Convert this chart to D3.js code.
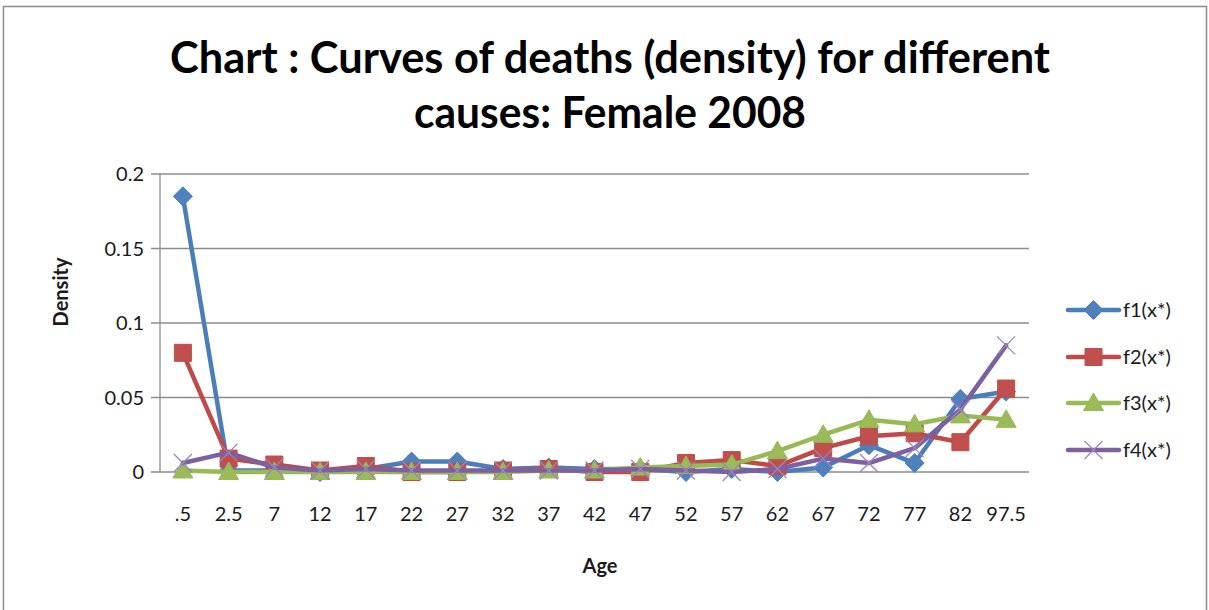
<!DOCTYPE html>
<html><head><meta charset="utf-8">
<script src="https://cdn.jsdelivr.net/npm/d3@7"></script>
<style>body{margin:0;background:#fff}svg{display:block}text{font-family:Lato,"Open Sans",sans-serif}</style>
</head><body><svg id="c" width="1209" height="610"></svg>
<script>
const ages = [".5","2.5","7","12","17","22","27","32","37","42","47","52","57","62","67","72","77","82","97.5"];
const f1 = [0.185,0.001,0.001,0,0.002,0.007,0.007,0.002,0.003,0.002,0.002,0,0.002,0,0.003,0.018,0.006,0.049,0.054];
const f2 = [0.080,0.009,0.005,0.001,0.004,0,0,0.001,0.002,0,0,0.006,0.008,0.004,0.016,0.024,0.026,0.020,0.056];
const f3 = [0.001,0,0,0,0,0,0,0,0.001,0.001,0.003,0.004,0.005,0.014,0.025,0.035,0.032,0.038,0.035];
const f4 = [0.006,0.013,0.003,0.001,0.002,0.001,0.001,0.001,0.001,0.001,0.002,0.001,0,0.002,0.009,0.006,0.016,0.042,0.085];
const seriesNames = ["f1(x*)","f2(x*)","f3(x*)","f4(x*)"];
const yTicks = [0,0.05,0.1,0.15,0.2];
const yTickLabels = ["0","0.05","0.1","0.15","0.2"];
const titleLines = ["Chart : Curves of deaths (density) for different","causes: Female 2008"];

const series = [
  {name: seriesNames[0], values: f1, line:"#4A7EBB", fill:"#4F81BD", stroke:"#4A7EBB", shape:"diamond"},
  {name: seriesNames[1], values: f2, line:"#BE4B48", fill:"#C0504D", stroke:"#BE4B48", shape:"square"},
  {name: seriesNames[2], values: f3, line:"#98B954", fill:"#9BBB59", stroke:"#98B954", shape:"triangle"},
  {name: seriesNames[3], values: f4, line:"#7D60A0", fill:"none", stroke:"#9B84C0", shape:"x"}
];

const svg = d3.select("#c");
svg.append("rect").attr("x",3.5).attr("y",6.5).attr("width",1203).attr("height",610)
  .attr("fill","#fff").attr("stroke","#8c8c8c").attr("stroke-width",1.5);

const L=160, R=1029, T=174, B=472;
const x = d3.scaleBand().domain(ages).range([L,R]);
const y = d3.scaleLinear().domain([0,0.2]).range([B,T]);

svg.append("g").selectAll("line").data(yTicks).join("line")
  .attr("x1",L-9).attr("x2",R).attr("y1",d=>y(d)).attr("y2",d=>y(d))
  .attr("stroke","#8c8c8c").attr("stroke-width",1.3);
svg.append("line").attr("x1",L).attr("x2",L).attr("y1",T).attr("y2",B)
  .attr("stroke","#8c8c8c").attr("stroke-width",1.3);

svg.append("g").selectAll("text").data(yTicks).join("text")
  .attr("x",L-16).attr("y",d=>y(d)).attr("dy","0.35em").attr("text-anchor","end")
  .attr("font-size",20).attr("fill","#1a1a1a").text((d,i)=>yTickLabels[i]);

svg.append("g").selectAll("text").data(ages).join("text")
  .attr("x",d=>x(d)+x.bandwidth()/2).attr("y",521).attr("text-anchor","middle")
  .attr("font-size",20).attr("fill","#1a1a1a").text(d=>d);

svg.append("text").attr("x",600).attr("y",573).attr("text-anchor","middle")
  .attr("font-size",20).attr("font-weight","bold").attr("fill","#1a1a1a").text("Age");
svg.append("text").attr("transform","translate(68,292) rotate(-90)").attr("text-anchor","middle")
  .attr("font-size",20).attr("font-weight","bold").attr("fill","#1a1a1a").text("Density");

const tw=[880,392];
titleLines.forEach((t,i)=>{
  svg.append("text").attr("x",610).attr("y",[73,128][i]).attr("text-anchor","middle")
    .attr("font-size",44).attr("font-weight","bold").attr("fill","#000")
    .attr("textLength",tw[i]).attr("lengthAdjust","spacingAndGlyphs").text(t);
});

const symbolPath = {
  diamond: "M0,-9.5L9.5,0L0,9.5L-9.5,0Z",
  square: "M-8.5,-8.5H8.5V8.5H-8.5Z",
  triangle: "M0,-10L10,7.5H-10Z",
  x: "M-9,-9L9,9M-9,9L9,-9"
};
function drawMarker(g, s, cx, cy){
  const p = g.append("path").attr("d",symbolPath[s.shape]).attr("transform",`translate(${cx},${cy})`);
  if(s.shape==="x"){
    p.attr("fill","none").attr("stroke",s.stroke).attr("stroke-width",1.3);
  } else {
    p.attr("fill",s.fill).attr("stroke",s.stroke).attr("stroke-width",1);
  }
}

const line = d3.line().x((d,i)=>x(ages[i])+x.bandwidth()/2).y(d=>y(d));
series.forEach(s=>{
  const g = svg.append("g");
  g.append("path").attr("d",line(s.values)).attr("fill","none").attr("stroke",s.line)
    .attr("stroke-width",4.5).attr("stroke-linejoin","round").attr("stroke-linecap","round");
  s.values.forEach((v,i)=>drawMarker(g,s,x(ages[i])+x.bandwidth()/2,y(v)));
});

const ly = [310,357,403,450];
series.forEach((s,i)=>{
  const g = svg.append("g");
  g.append("line").attr("x1",1068).attr("x2",1119).attr("y1",ly[i]).attr("y2",ly[i])
    .attr("stroke",s.line).attr("stroke-width",4.5).attr("stroke-linecap","round");
  drawMarker(g,s,1093.5,ly[i]);
  g.append("text").attr("x",1123).attr("y",ly[i]).attr("dy","0.35em").attr("font-size",20)
    .attr("fill","#1a1a1a").text(s.name);
});
</script></body></html>
